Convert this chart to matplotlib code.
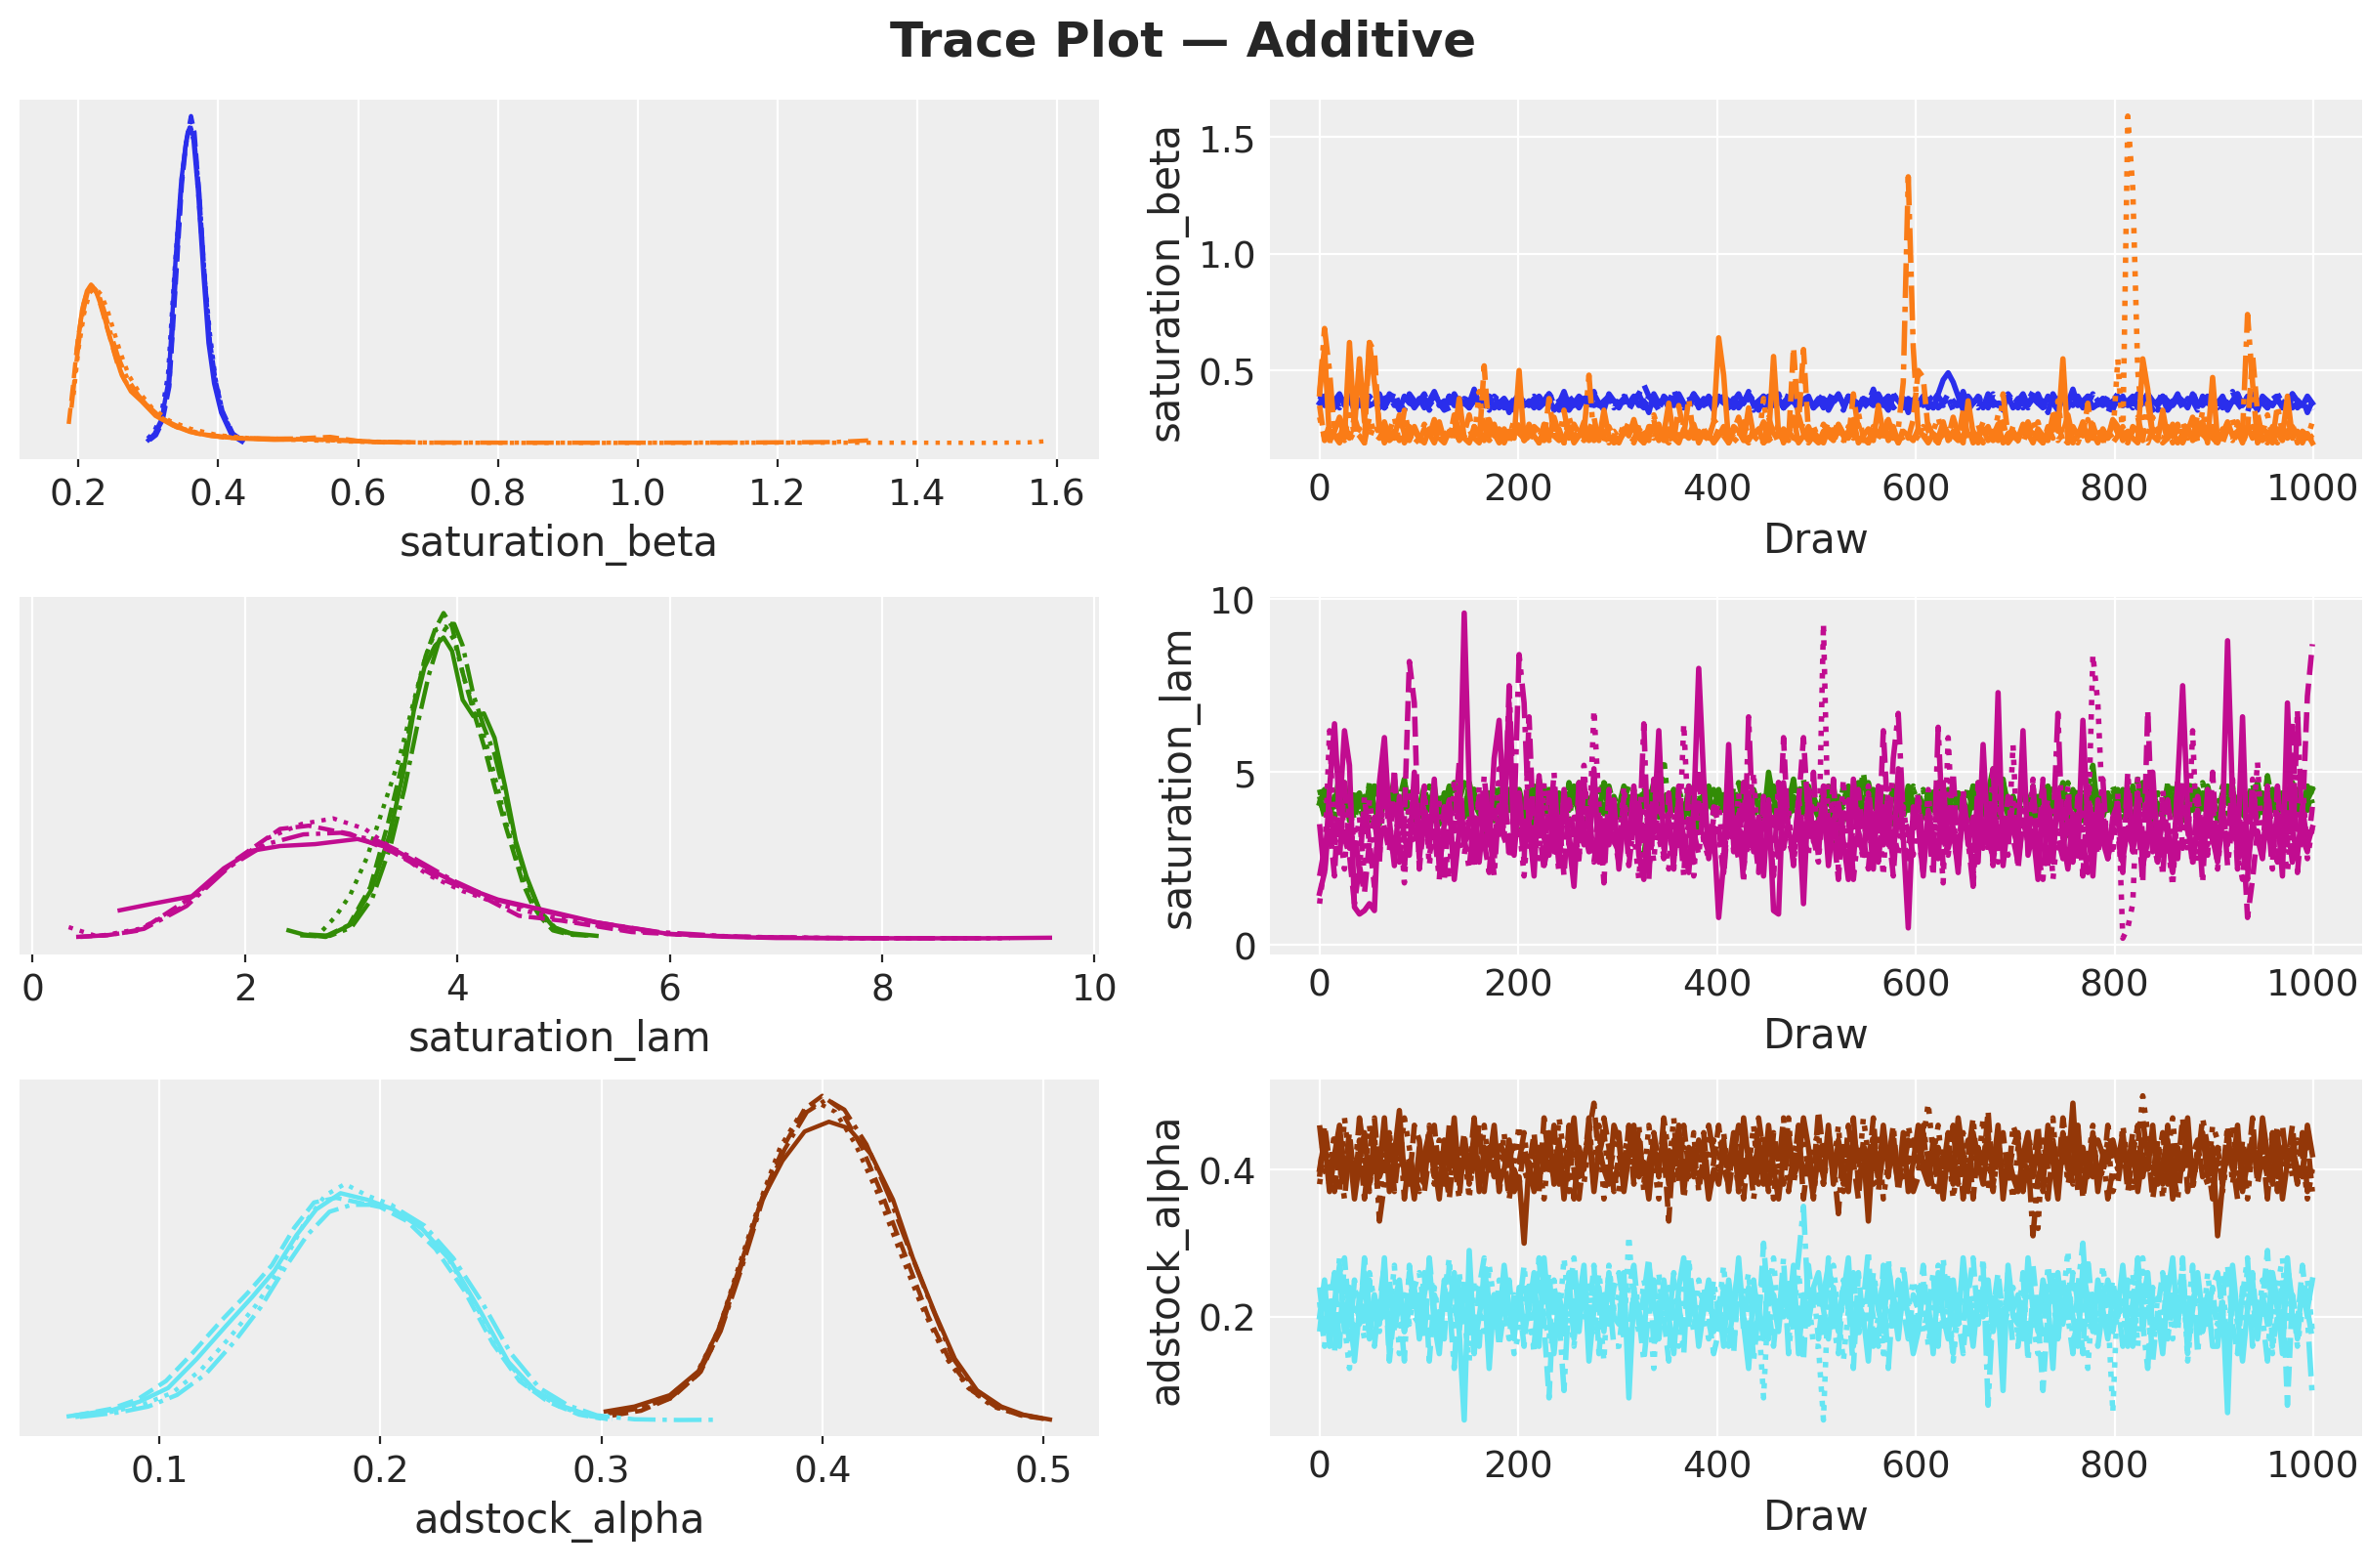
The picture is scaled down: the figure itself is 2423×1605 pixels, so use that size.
import numpy as np
import matplotlib.pyplot as plt

# arviz-darkgrid colours, one per channel, and one line style per chain
beta_colors = ["#2a2eec", "#fa7c17"]
lam_colors = ["#328c06", "#c10c90"]
alpha_colors = ["#933708", "#65e5f3"]
chain_styles = ["-", "--", ":", "-."]

var_names = ["saturation_beta", "saturation_lam", "adstock_alpha"]
beta_xticks = [0.2, 0.4, 0.6, 0.8, 1.0, 1.2, 1.4, 1.6]
lam_xticks = [0, 2, 4, 6, 8, 10]
alpha_xticks = [0.1, 0.2, 0.3, 0.4, 0.5]
draw_ticks = [0, 200, 400, 600, 800, 1000]
beta_yticks = [0.5, 1.0, 1.5]
lam_yticks = [0, 5, 10]
alpha_yticks = [0.2, 0.4]

# ---- posterior densities (4 chains per channel) ----
beta_blue_kde_x = [
    [0.300, 0.309, 0.319, 0.329, 0.339, 0.347, 0.354, 0.359, 0.364, 0.371, 0.379, 0.386, 0.394, 0.404, 0.419, 0.434],
    [0.302, 0.311, 0.320, 0.330, 0.340, 0.348, 0.355, 0.361, 0.366, 0.373, 0.381, 0.388, 0.396, 0.406, 0.421, 0.438],
    [0.299, 0.308, 0.318, 0.328, 0.338, 0.346, 0.353, 0.359, 0.365, 0.372, 0.380, 0.388, 0.396, 0.407, 0.422, 0.445],
    [0.301, 0.310, 0.320, 0.330, 0.340, 0.348, 0.355, 0.360, 0.366, 0.373, 0.380, 0.387, 0.395, 0.405, 0.420, 0.436],
]
beta_blue_kde_y = [
    [0.2, 0.6, 1.5, 3.9, 11.4, 16.2, 18.6, 19.5, 19.0, 15.6, 10.3, 6.2, 3.7, 1.9, 0.5, 0.1],
    [0.2, 0.5, 1.3, 3.5, 10.4, 16.0, 18.9, 20.2, 19.2, 15.2, 10.0, 6.3, 3.9, 2.0, 0.6, 0.1],
    [0.3, 0.7, 1.7, 4.2, 11.0, 15.5, 18.2, 19.7, 18.9, 15.0, 10.5, 6.8, 4.0, 1.8, 0.5, 0.1],
    [0.2, 0.6, 1.4, 3.8, 10.8, 16.5, 19.0, 19.3, 18.6, 15.4, 10.6, 6.5, 3.8, 1.9, 0.6, 0.1],
]
beta_orange_kde_x = [
    [0.197, 0.205, 0.212, 0.218, 0.225, 0.233, 0.242, 0.252, 0.262, 0.275, 0.290, 0.310, 0.335, 0.360, 0.390, 0.430,
     0.480, 0.530, 0.580, 0.620, 0.660],
    [0.186, 0.192, 0.199, 0.207, 0.214, 0.220, 0.227, 0.235, 0.245, 0.255, 0.266, 0.280, 0.295, 0.315, 0.340, 0.370,
     0.410, 0.460, 0.510, 0.560, 0.600, 0.640],
    [0.193, 0.200, 0.208, 0.216, 0.224, 0.232, 0.241, 0.250, 0.260, 0.272, 0.286, 0.305, 0.330, 0.360, 0.400, 0.450,
     0.520, 0.600, 0.700, 0.850, 1.000, 1.200, 1.400, 1.500, 1.560, 1.590],
    [0.190, 0.197, 0.205, 0.213, 0.220, 0.228, 0.236, 0.246, 0.257, 0.270, 0.285, 0.303, 0.325, 0.350, 0.380, 0.420,
     0.470, 0.530, 0.600, 0.700, 0.850, 1.000, 1.150, 1.280, 1.330],
]
beta_orange_kde_y = [
    [5.6, 8.2, 9.4, 9.8, 9.4, 8.4, 7.0, 5.5, 4.2, 3.2, 2.6, 1.7, 1.1, 0.7, 0.45, 0.3, 0.22, 0.25, 0.2, 0.1, 0.05],
    [1.2, 3.5, 6.4, 8.6, 9.6, 9.7, 9.2, 8.0, 6.5, 5.0, 3.9, 3.1, 2.5, 1.7, 1.0, 0.6, 0.35, 0.28, 0.3, 0.4, 0.15, 0.05],
    [3.0, 5.8, 8.0, 9.3, 9.6, 9.2, 8.3, 7.0, 5.6, 4.2, 3.2, 2.2, 1.4, 0.9, 0.5, 0.3, 0.2, 0.1, 0.04, 0.03, 0.03,
     0.04, 0.04, 0.03, 0.06, 0.15],
    [2.2, 5.0, 7.8, 9.3, 9.7, 9.3, 8.3, 6.8, 5.3, 4.0, 3.0, 2.1, 1.4, 0.9, 0.55, 0.35, 0.3, 0.25, 0.12, 0.05, 0.04,
     0.04, 0.05, 0.08, 0.18],
]
lam_green_kde_x = [
    [2.41, 2.55, 2.76, 2.99, 3.19, 3.36, 3.49, 3.59, 3.69, 3.79, 3.87, 3.95, 4.05, 4.15, 4.25, 4.35, 4.45, 4.55, 4.65,
     4.78, 4.91, 5.05, 5.31],
    [2.52, 2.75, 2.98, 3.18, 3.35, 3.49, 3.60, 3.70, 3.79, 3.87, 3.95, 4.05, 4.15, 4.25, 4.35, 4.45, 4.55, 4.62, 4.70,
     4.78, 4.90, 5.05, 5.25],
    [2.73, 2.85, 2.99, 3.15, 3.30, 3.45, 3.58, 3.70, 3.80, 3.89, 3.97, 4.07, 4.17, 4.27, 4.37, 4.47, 4.57, 4.67, 4.80,
     4.95, 5.10],
    [2.60, 2.80, 3.00, 3.20, 3.37, 3.50, 3.62, 3.73, 3.83, 3.91, 3.97, 4.05, 4.15, 4.25, 4.35, 4.45, 4.55, 4.65, 4.78,
     4.92, 5.10, 5.28],
]
lam_green_kde_y = [
    [0.03, 0.015, 0.006, 0.05, 0.18, 0.38, 0.61, 0.84, 1.0, 1.08, 1.11, 1.06, 0.88, 0.82, 0.83, 0.74, 0.56, 0.36,
     0.23, 0.10, 0.04, 0.02, 0.01],
    [0.012, 0.007, 0.05, 0.19, 0.43, 0.66, 0.88, 1.04, 1.14, 1.20, 1.15, 0.98, 0.84, 0.71, 0.56, 0.42, 0.29, 0.20,
     0.13, 0.08, 0.03, 0.015, 0.01],
    [0.03, 0.08, 0.16, 0.30, 0.48, 0.66, 0.86, 1.04, 1.14, 1.15, 1.10, 0.95, 0.84, 0.72, 0.57, 0.41, 0.27, 0.17,
     0.08, 0.03, 0.012],
    [0.015, 0.01, 0.04, 0.15, 0.34, 0.55, 0.78, 0.97, 1.10, 1.16, 1.16, 1.08, 0.90, 0.78, 0.68, 0.52, 0.35, 0.22,
     0.10, 0.04, 0.015, 0.01],
]
lam_magenta_kde_x = [
    [0.82, 1.10, 1.50, 1.80, 2.07, 2.33, 2.66, 3.06, 3.39, 3.72, 4.05, 4.38, 4.85, 5.31, 5.97, 6.50, 7.00, 8.00, 9.00,
     9.58],
    [0.41, 0.70, 1.01, 1.54, 1.93, 2.33, 2.60, 2.99, 3.39, 3.80, 4.19, 4.58, 4.98, 5.64, 6.20, 7.00, 8.00, 8.80],
    [0.34, 0.61, 1.01, 1.40, 1.80, 2.20, 2.53, 2.83, 3.13, 3.39, 3.72, 4.05, 4.45, 4.90, 5.40, 6.00, 6.80, 7.80, 8.60,
     9.20],
    [0.45, 0.75, 1.05, 1.45, 1.85, 2.20, 2.55, 2.90, 3.25, 3.60, 3.95, 4.35, 4.80, 5.30, 5.90, 6.60, 7.50, 8.40, 9.00],
]
lam_magenta_kde_y = [
    [0.104, 0.126, 0.156, 0.259, 0.324, 0.341, 0.348, 0.367, 0.331, 0.259, 0.192, 0.144, 0.102, 0.060, 0.018, 0.007,
     0.002, 0.001, 0.001, 0.003],
    [0.006, 0.012, 0.03, 0.163, 0.295, 0.404, 0.416, 0.386, 0.319, 0.228, 0.163, 0.084, 0.066, 0.024, 0.012, 0.004,
     0.001, 0.001],
    [0.042, 0.008, 0.036, 0.114, 0.247, 0.368, 0.422, 0.443, 0.404, 0.331, 0.235, 0.175, 0.12, 0.078, 0.042, 0.016,
     0.005, 0.001, 0.001, 0.001],
    [0.006, 0.014, 0.036, 0.12, 0.264, 0.348, 0.384, 0.39, 0.36, 0.294, 0.216, 0.144, 0.102, 0.06, 0.024, 0.007,
     0.002, 0.001, 0.001],
]
alpha_brown_kde_x = [
    [0.302, 0.315, 0.331, 0.344, 0.353, 0.363, 0.372, 0.382, 0.392, 0.403, 0.412, 0.422, 0.432, 0.441, 0.451, 0.460,
     0.470, 0.481, 0.491, 0.503],
    [0.305, 0.318, 0.332, 0.345, 0.354, 0.364, 0.373, 0.383, 0.392, 0.400, 0.408, 0.418, 0.428, 0.438, 0.448, 0.458,
     0.468, 0.479, 0.490, 0.500],
    [0.304, 0.317, 0.330, 0.343, 0.353, 0.362, 0.372, 0.381, 0.390, 0.398, 0.406, 0.415, 0.425, 0.435, 0.445, 0.456,
     0.466, 0.477, 0.489, 0.501],
    [0.303, 0.316, 0.331, 0.344, 0.354, 0.364, 0.373, 0.383, 0.393, 0.402, 0.410, 0.420, 0.430, 0.440, 0.450, 0.459,
     0.469, 0.480, 0.490, 0.500],
]
alpha_brown_kde_y = [
    [0.39, 0.60, 1.09, 2.13, 3.92, 6.72, 9.38, 11.2, 12.46, 12.88, 12.6, 11.48, 9.52, 7.0, 4.62, 2.66, 1.30, 0.60,
     0.25, 0.04],
    [0.21, 0.42, 0.98, 2.1, 3.92, 6.86, 9.66, 11.9, 13.44, 14.0, 13.44, 11.76, 9.52, 7.0, 4.48, 2.52, 1.26, 0.56,
     0.21, 0.07],
    [0.35, 0.55, 1.0, 2.0, 3.9, 6.6, 9.5, 11.8, 13.2, 13.7, 13.3, 11.9, 9.8, 7.3, 4.9, 2.7, 1.4, 0.6, 0.25, 0.06],
    [0.3, 0.5, 0.95, 2.0, 3.85, 6.7, 9.5, 11.7, 13.3, 13.85, 13.4, 11.9, 9.7, 7.2, 4.8, 2.7, 1.35, 0.6, 0.25, 0.08],
]
alpha_cyan_kde_x = [
    [0.059, 0.079, 0.091, 0.104, 0.117, 0.130, 0.142, 0.152, 0.162, 0.171, 0.182, 0.194, 0.206, 0.219, 0.232, 0.245,
     0.258, 0.270, 0.283, 0.296, 0.302],
    [0.061, 0.078, 0.090, 0.103, 0.115, 0.128, 0.140, 0.151, 0.161, 0.170, 0.180, 0.190, 0.200, 0.212, 0.225, 0.238,
     0.251, 0.263, 0.276, 0.290, 0.300],
    [0.062, 0.080, 0.093, 0.106, 0.119, 0.132, 0.144, 0.155, 0.165, 0.175, 0.184, 0.194, 0.205, 0.217, 0.230, 0.243,
     0.256, 0.268, 0.281, 0.294, 0.305],
    [0.064, 0.082, 0.095, 0.108, 0.121, 0.134, 0.146, 0.157, 0.167, 0.177, 0.187, 0.197, 0.208, 0.220, 0.233, 0.246,
     0.259, 0.272, 0.285, 0.298, 0.315, 0.335, 0.352],
]
alpha_cyan_kde_y = [
    [0.18, 0.46, 0.81, 1.4, 2.66, 4.06, 5.32, 6.44, 7.98, 9.1, 9.8, 9.52, 9.1, 8.26, 6.86, 4.76, 2.52, 1.3, 0.6, 0.18,
     0.07],
    [0.2, 0.5, 0.9, 1.7, 2.9, 4.3, 5.5, 6.7, 8.3, 9.4, 9.6, 9.4, 9.2, 8.6, 7.4, 5.6, 3.3, 1.7, 0.8, 0.25, 0.08],
    [0.15, 0.4, 0.7, 1.2, 2.2, 3.6, 5.0, 6.6, 8.4, 9.7, 10.2, 9.7, 9.3, 8.5, 7.1, 5.0, 2.7, 1.35, 0.6, 0.2, 0.06],
    [0.15, 0.35, 0.6, 1.1, 2.0, 3.4, 4.9, 6.6, 8.0, 9.0, 9.3, 9.3, 9.1, 8.4, 7.0, 5.1, 2.9, 1.4, 0.65, 0.22, 0.05,
     0.02, 0.03],
]

# ---- traces, one value read about every 5 draws ----
# beta and alpha in hundredths, lam in tenths
beta_blue_trace = [
    [36, 39, 34, 37, 40, 35, 38, 33, 37, 39, 35, 36, 40, 34, 38, 37, 33, 39, 36, 35,
     38, 34, 37, 41, 36, 33, 39, 35, 38, 36, 34, 40, 37, 35, 39, 34, 36, 38, 32, 37,
     40, 35, 37, 34, 39, 36, 38, 33, 36, 41, 35, 37, 34, 38, 39, 35, 36, 33, 40, 37,
     34, 38, 36, 39, 35, 37, 32, 40, 36, 38, 34, 37, 39, 35, 36, 40, 34, 38, 37, 33,
     39, 36, 35, 38, 34, 37, 40, 36, 33, 39, 37, 35, 38, 34, 36, 41, 35, 37, 39, 34,
     36, 38, 33, 37, 40, 35, 39, 36, 34, 38, 37, 35, 40, 36, 33, 39, 37, 34, 38, 36,
     35, 39, 37, 34, 40, 46, 49, 45, 39, 33, 39, 36, 38, 34, 40, 37, 35, 36, 39, 34,
     37, 40, 35, 38, 36, 34, 39, 37, 33, 38, 36, 42, 35, 37, 39, 34, 36, 38, 35, 37,
     38, 35, 37, 39, 34, 36, 40, 37, 35, 38, 33, 36, 39, 37, 34, 40, 36, 35, 38, 37,
     36, 39, 34, 37, 40, 35, 38, 36, 33, 39, 37, 35, 38, 34, 36, 40, 37, 35, 39, 36],
    [40, 35, 37, 34, 39, 36, 38, 33, 36, 41, 35, 37, 34, 38, 39, 35, 36, 33, 40, 37,
     34, 38, 36, 39, 35, 37, 32, 40, 36, 38, 34, 37, 39, 35, 36, 40, 34, 38, 37, 33,
     39, 36, 35, 38, 34, 37, 40, 36, 33, 39, 37, 35, 38, 34, 36, 41, 35, 37, 39, 34,
     36, 38, 33, 37, 40, 44, 39, 36, 34, 38, 37, 35, 40, 36, 33, 39, 37, 34, 38, 36,
     35, 39, 37, 34, 38, 36, 41, 35, 37, 33, 39, 36, 38, 34, 40, 37, 35, 36, 39, 34,
     37, 40, 35, 38, 36, 34, 39, 37, 33, 38, 36, 42, 35, 37, 39, 34, 36, 38, 35, 37,
     38, 35, 37, 39, 34, 36, 40, 37, 35, 38, 33, 36, 39, 37, 34, 40, 36, 35, 38, 37,
     36, 39, 34, 37, 40, 35, 38, 36, 33, 39, 37, 35, 38, 34, 36, 40, 37, 35, 39, 36,
     36, 39, 34, 37, 40, 35, 38, 33, 37, 39, 35, 36, 40, 34, 38, 37, 33, 39, 36, 35,
     38, 34, 37, 41, 36, 33, 39, 35, 38, 36, 34, 40, 37, 35, 39, 34, 36, 38, 32, 37],
    [39, 36, 35, 38, 34, 37, 40, 36, 33, 39, 37, 35, 38, 34, 36, 41, 35, 37, 39, 34,
     36, 38, 33, 37, 40, 35, 39, 36, 34, 38, 37, 35, 40, 36, 33, 39, 37, 34, 38, 36,
     35, 39, 37, 34, 38, 36, 41, 35, 37, 33, 39, 36, 38, 34, 40, 37, 35, 36, 39, 34,
     37, 40, 35, 38, 36, 34, 39, 37, 33, 38, 36, 42, 35, 37, 39, 34, 36, 38, 35, 37,
     38, 35, 37, 39, 34, 36, 40, 37, 35, 38, 33, 36, 39, 37, 34, 40, 36, 35, 38, 37,
     36, 39, 34, 37, 40, 35, 38, 36, 33, 39, 37, 35, 38, 34, 36, 40, 37, 35, 39, 36,
     36, 39, 34, 37, 40, 35, 38, 33, 37, 39, 35, 36, 40, 34, 38, 37, 33, 39, 36, 35,
     38, 34, 37, 41, 36, 33, 39, 35, 38, 36, 34, 40, 37, 35, 39, 34, 36, 38, 32, 37,
     40, 35, 37, 34, 39, 36, 38, 33, 36, 41, 35, 37, 34, 38, 39, 35, 36, 33, 40, 37,
     34, 38, 36, 39, 35, 37, 32, 40, 36, 38, 34, 37, 39, 35, 36, 40, 34, 38, 37, 33],
    [35, 39, 37, 34, 38, 36, 41, 35, 37, 33, 39, 36, 38, 34, 40, 37, 35, 36, 39, 34,
     37, 40, 35, 38, 36, 34, 39, 37, 33, 38, 36, 42, 35, 37, 39, 34, 36, 38, 35, 37,
     38, 35, 37, 39, 34, 36, 40, 37, 35, 38, 33, 36, 39, 37, 34, 40, 36, 35, 38, 37,
     36, 39, 34, 37, 40, 35, 38, 36, 33, 39, 37, 35, 38, 34, 36, 40, 37, 35, 39, 36,
     36, 39, 34, 37, 40, 35, 38, 33, 37, 39, 35, 36, 40, 34, 38, 37, 33, 39, 36, 35,
     38, 34, 37, 41, 36, 33, 39, 35, 38, 36, 34, 40, 37, 35, 39, 34, 36, 38, 32, 37,
     40, 35, 37, 34, 39, 36, 38, 33, 36, 41, 35, 37, 34, 38, 39, 35, 36, 33, 40, 37,
     34, 38, 36, 39, 35, 37, 32, 40, 36, 38, 34, 37, 39, 35, 36, 40, 34, 38, 37, 33,
     39, 36, 35, 38, 34, 37, 40, 36, 33, 39, 37, 35, 38, 34, 36, 41, 35, 37, 39, 34,
     36, 38, 33, 37, 40, 35, 39, 36, 34, 38, 37, 35, 40, 36, 33, 39, 37, 34, 38, 36],
]
beta_orange_trace = [
    [40, 60, 20, 24, 30, 21, 62, 25, 55, 28, 62, 45, 27, 19, 24, 21, 31, 23, 20, 26,
     21, 19, 25, 23, 28, 20, 24, 22, 38, 21, 19, 26, 23, 20, 29, 22, 25, 19, 24, 21,
     50, 20, 27, 22, 19, 25, 21, 30, 23, 20, 26, 19, 22, 28, 21, 24, 20, 33, 22, 19,
     20, 25, 22, 29, 21, 19, 24, 26, 20, 23, 36, 21, 19, 25, 22, 27, 20, 24, 21, 28,
     64, 48, 19, 26, 24, 20, 34, 22, 25, 19, 21, 56, 23, 20, 24, 30, 19, 22, 26, 21,
     19, 24, 22, 20, 27, 23, 21, 29, 19, 22, 25, 20, 35, 23, 21, 26, 19, 24, 22, 20,
     25, 22, 19, 23, 21, 28, 20, 24, 22, 19, 37, 23, 21, 25, 20, 22, 27, 19, 23, 24,
     21, 27, 23, 19, 25, 22, 20, 31, 24, 55, 19, 26, 22, 28, 20, 23, 19, 25, 21, 29,
     26, 20, 24, 21, 19, 55, 42, 22, 20, 33, 21, 24, 19, 23, 26, 20, 22, 28, 19, 47,
     20, 23, 28, 22, 24, 19, 26, 21, 27, 20, 23, 19, 25, 22, 39, 21, 24, 20, 23, 19],
    [35, 20, 27, 22, 19, 25, 21, 30, 23, 20, 62, 58, 22, 28, 21, 24, 20, 33, 22, 19,
     20, 25, 22, 29, 21, 19, 24, 26, 20, 23, 31, 21, 19, 52, 22, 27, 20, 24, 21, 28,
     23, 21, 19, 26, 24, 20, 38, 22, 25, 19, 21, 27, 23, 20, 24, 30, 19, 22, 26, 21,
     19, 24, 22, 20, 27, 23, 21, 29, 19, 22, 25, 20, 35, 23, 21, 26, 19, 24, 22, 20,
     25, 22, 19, 23, 21, 28, 20, 24, 22, 19, 30, 23, 21, 25, 20, 60, 27, 59, 23, 24,
     21, 27, 23, 19, 25, 22, 20, 40, 24, 21, 19, 26, 22, 28, 20, 23, 19, 25, 21, 29,
     50, 47, 24, 21, 19, 27, 23, 22, 20, 33, 21, 24, 19, 23, 26, 20, 22, 28, 19, 22,
     20, 23, 28, 22, 24, 19, 26, 21, 27, 20, 23, 19, 25, 22, 36, 21, 24, 20, 23, 19,
     22, 26, 20, 24, 30, 21, 19, 25, 23, 28, 20, 22, 27, 19, 24, 21, 31, 23, 20, 26,
     21, 19, 25, 23, 28, 20, 24, 57, 32, 21, 19, 26, 23, 20, 29, 22, 25, 19, 24, 21],
    [30, 21, 19, 26, 24, 20, 34, 22, 25, 19, 21, 27, 23, 20, 24, 30, 19, 22, 26, 21,
     19, 24, 22, 20, 27, 23, 21, 29, 19, 22, 25, 20, 41, 23, 21, 26, 19, 24, 22, 20,
     25, 22, 19, 23, 21, 28, 20, 24, 22, 19, 30, 23, 21, 25, 20, 22, 27, 19, 23, 24,
     21, 27, 23, 19, 25, 22, 20, 31, 24, 21, 19, 26, 22, 28, 20, 23, 19, 25, 21, 29,
     26, 20, 24, 21, 19, 27, 23, 22, 20, 38, 21, 24, 19, 23, 26, 20, 22, 28, 19, 22,
     20, 23, 28, 22, 24, 19, 26, 21, 27, 20, 23, 19, 25, 22, 30, 21, 24, 20, 23, 19,
     22, 26, 20, 24, 30, 21, 19, 25, 23, 28, 20, 22, 27, 19, 24, 21, 31, 23, 20, 26,
     21, 19, 25, 23, 28, 20, 24, 22, 37, 21, 19, 26, 23, 20, 29, 22, 25, 19, 24, 21,
     55, 20, 159, 128, 50, 25, 21, 30, 23, 20, 26, 19, 22, 28, 21, 24, 20, 33, 22, 19,
     20, 25, 22, 29, 21, 19, 24, 26, 20, 23, 31, 21, 19, 25, 22, 27, 20, 24, 21, 28],
    [40, 68, 50, 23, 21, 28, 20, 24, 22, 19, 30, 23, 21, 25, 20, 22, 27, 19, 23, 24,
     21, 27, 23, 19, 25, 22, 20, 31, 24, 21, 19, 26, 22, 28, 20, 23, 19, 25, 21, 29,
     26, 20, 24, 21, 19, 27, 23, 22, 20, 33, 21, 24, 19, 23, 48, 20, 22, 28, 19, 22,
     20, 23, 28, 22, 24, 19, 26, 21, 27, 20, 23, 19, 25, 22, 38, 21, 24, 20, 23, 19,
     22, 26, 20, 24, 30, 21, 19, 25, 23, 28, 20, 22, 27, 19, 24, 21, 31, 23, 20, 26,
     21, 19, 25, 23, 28, 20, 24, 22, 32, 21, 19, 26, 23, 20, 29, 22, 25, 45, 133, 60,
     24, 20, 27, 22, 19, 25, 21, 30, 23, 20, 26, 19, 22, 28, 21, 24, 20, 40, 22, 19,
     20, 25, 22, 29, 21, 19, 24, 26, 20, 23, 31, 21, 19, 25, 22, 27, 20, 24, 21, 28,
     23, 21, 19, 26, 24, 20, 36, 22, 25, 19, 21, 27, 23, 20, 24, 30, 19, 22, 26, 21,
     19, 24, 22, 20, 27, 23, 74, 45, 19, 22, 25, 20, 35, 23, 21, 26, 19, 24, 22, 20],
]
lam_green_trace = [
    [41, 45, 37, 43, 39, 47, 36, 42, 44, 38, 46, 40, 35, 43, 41, 48, 37, 44, 39, 42,
     38, 44, 40, 46, 36, 42, 45, 39, 43, 37, 47, 41, 38, 44, 40, 36, 45, 42, 39, 46,
     43, 37, 45, 32, 48, 38, 42, 36, 44, 41, 39, 46, 37, 43, 40, 45, 38, 47, 41, 36,
     40, 46, 38, 42, 35, 44, 41, 47, 39, 43, 37, 45, 40, 36, 46, 42, 38, 44, 41, 39,
     45, 39, 43, 37, 41, 46, 38, 44, 40, 36, 50, 42, 39, 45, 37, 43, 41, 38, 46, 40,
     37, 42, 46, 40, 28, 38, 36, 43, 47, 39, 41, 45, 38, 42, 40, 35, 44, 39, 46, 41,
     42, 38, 44, 39, 47, 41, 37, 45, 40, 43, 36, 46, 39, 41, 44, 51, 42, 48, 37, 43,
     39, 45, 41, 36, 43, 40, 46, 38, 42, 47, 39, 44, 37, 43, 41, 45, 36, 40, 44, 38,
     44, 40, 37, 46, 39, 42, 45, 31, 41, 38, 44, 40, 47, 36, 42, 39, 45, 41, 38, 43,
     36, 43, 41, 45, 38, 46, 40, 42, 37, 44, 41, 39, 45, 40, 38, 47, 43, 37, 42, 45],
    [43, 37, 45, 40, 48, 38, 42, 36, 44, 41, 39, 46, 37, 43, 40, 45, 38, 47, 41, 36,
     40, 46, 38, 42, 35, 44, 41, 47, 39, 43, 37, 45, 40, 32, 46, 42, 38, 44, 41, 39,
     45, 39, 43, 37, 41, 46, 38, 44, 40, 36, 47, 42, 39, 45, 37, 43, 41, 38, 46, 40,
     37, 42, 46, 40, 44, 26, 36, 43, 47, 39, 41, 45, 38, 42, 40, 35, 44, 39, 46, 41,
     42, 38, 44, 39, 47, 41, 37, 45, 40, 43, 36, 46, 39, 41, 44, 38, 42, 48, 37, 43,
     39, 45, 41, 36, 43, 40, 46, 38, 42, 50, 39, 44, 37, 43, 41, 45, 36, 40, 44, 38,
     44, 40, 37, 46, 39, 42, 45, 37, 41, 38, 44, 40, 47, 36, 42, 39, 45, 41, 38, 43,
     36, 43, 41, 45, 38, 46, 40, 42, 37, 44, 30, 39, 45, 40, 38, 47, 43, 37, 42, 45,
     41, 45, 37, 43, 39, 47, 36, 42, 44, 38, 46, 40, 35, 43, 41, 48, 37, 44, 39, 42,
     38, 44, 40, 46, 36, 42, 45, 39, 43, 37, 49, 41, 38, 44, 40, 36, 45, 42, 39, 46],
    [45, 39, 43, 37, 41, 46, 38, 44, 40, 36, 47, 42, 39, 45, 37, 43, 41, 38, 46, 40,
     37, 42, 46, 40, 44, 38, 36, 43, 47, 39, 41, 45, 38, 42, 40, 35, 44, 39, 46, 41,
     31, 38, 44, 39, 47, 41, 37, 45, 40, 43, 36, 46, 39, 41, 44, 38, 42, 48, 37, 43,
     39, 45, 41, 36, 43, 40, 46, 38, 42, 54, 39, 44, 37, 43, 41, 45, 36, 40, 44, 38,
     44, 40, 37, 46, 39, 42, 45, 37, 41, 38, 44, 40, 47, 36, 42, 39, 45, 41, 38, 43,
     36, 43, 41, 29, 38, 46, 40, 42, 37, 44, 41, 39, 45, 40, 38, 47, 43, 37, 42, 45,
     41, 45, 37, 43, 39, 47, 36, 42, 44, 38, 46, 40, 35, 43, 41, 48, 37, 44, 39, 42,
     38, 44, 40, 46, 36, 42, 45, 39, 43, 37, 47, 33, 38, 44, 40, 36, 45, 42, 39, 46,
     43, 37, 45, 40, 48, 38, 42, 36, 44, 41, 39, 46, 37, 43, 40, 45, 38, 47, 41, 36,
     40, 46, 38, 42, 30, 44, 41, 47, 39, 43, 37, 45, 40, 36, 46, 42, 38, 44, 41, 39],
    [42, 38, 44, 39, 50, 41, 37, 45, 40, 43, 36, 46, 39, 41, 44, 38, 42, 48, 37, 43,
     39, 45, 41, 36, 43, 40, 46, 38, 42, 47, 39, 44, 37, 43, 41, 45, 36, 40, 44, 38,
     44, 40, 37, 46, 39, 42, 45, 37, 41, 38, 44, 40, 47, 36, 42, 39, 45, 41, 38, 43,
     36, 43, 41, 45, 38, 46, 40, 42, 37, 44, 41, 39, 45, 40, 38, 47, 32, 37, 42, 45,
     41, 45, 37, 43, 39, 47, 36, 42, 44, 38, 46, 40, 35, 43, 41, 48, 37, 44, 39, 42,
     38, 44, 40, 46, 36, 42, 45, 39, 43, 37, 47, 41, 38, 44, 40, 36, 45, 42, 39, 46,
     43, 37, 45, 40, 48, 38, 42, 36, 44, 41, 39, 46, 31, 43, 40, 45, 38, 47, 41, 36,
     40, 46, 38, 42, 35, 44, 41, 47, 39, 43, 37, 45, 40, 36, 46, 52, 38, 44, 41, 39,
     45, 39, 43, 37, 41, 46, 38, 44, 40, 36, 47, 42, 39, 45, 37, 43, 41, 38, 46, 40,
     37, 42, 46, 40, 44, 38, 36, 43, 47, 39, 41, 45, 38, 42, 40, 35, 44, 39, 46, 41],
]
lam_magenta_trace = [
    [15, 21, 45, 64, 38, 62, 52, 11, 9, 10, 12, 10, 47, 60, 36, 23, 43, 31, 26, 50,
     25, 39, 29, 48, 22, 35, 42, 19, 33, 96, 46, 31, 24, 40, 29, 54, 65, 37, 70, 26,
     44, 28, 35, 20, 49, 31, 26, 38, 23, 45, 30, 17, 41, 34, 27, 51, 24, 36, 29, 42,
     22, 37, 31, 46, 26, 19, 40, 33, 62, 28, 36, 24, 43, 30, 21, 39, 80, 48, 25, 34,
     8, 24, 58, 29, 34, 22, 44, 27, 37, 20, 42, 10, 9, 47, 33, 28, 39, 12, 45, 30,
     27, 43, 23, 36, 41, 30, 19, 48, 32, 26, 38, 22, 46, 29, 35, 24, 51, 31, 5, 40,
     35, 20, 39, 31, 25, 47, 28, 34, 21, 43, 29, 37, 24, 58, 30, 26, 73, 23, 36, 33,
     29, 62, 26, 33, 19, 40, 36, 24, 45, 31, 22, 38, 27, 65, 34, 20, 42, 30, 25, 37,
     41, 25, 34, 28, 44, 23, 30, 50, 26, 37, 32, 21, 47, 75, 39, 24, 35, 28, 43, 31,
     24, 36, 88, 42, 27, 66, 22, 35, 31, 25, 44, 28, 38, 20, 70, 33, 26, 40, 29, 34],
    [20, 28, 35, 20, 49, 31, 26, 12, 23, 15, 30, 17, 41, 34, 27, 51, 24, 36, 82, 70,
     22, 37, 31, 46, 26, 19, 40, 33, 53, 28, 36, 24, 43, 30, 21, 39, 32, 48, 25, 34,
     38, 24, 66, 29, 34, 22, 44, 27, 37, 20, 42, 31, 25, 47, 33, 28, 39, 18, 45, 30,
     27, 43, 23, 36, 41, 30, 19, 48, 32, 26, 38, 22, 46, 29, 35, 24, 51, 31, 27, 40,
     35, 20, 39, 31, 25, 47, 28, 34, 21, 43, 29, 37, 24, 60, 30, 26, 41, 60, 36, 33,
     29, 46, 26, 33, 19, 40, 36, 24, 45, 31, 22, 38, 27, 62, 34, 20, 42, 30, 25, 37,
     41, 25, 34, 28, 44, 23, 30, 50, 26, 37, 32, 21, 47, 29, 39, 24, 35, 28, 43, 31,
     24, 36, 30, 42, 27, 48, 22, 35, 31, 25, 44, 28, 38, 20, 46, 33, 26, 40, 29, 34,
     32, 21, 45, 27, 38, 18, 68, 30, 24, 41, 35, 20, 47, 28, 36, 23, 43, 31, 26, 50,
     25, 39, 29, 48, 22, 35, 8, 19, 33, 27, 46, 31, 24, 40, 29, 65, 21, 37, 72, 87],
    [12, 24, 62, 29, 34, 22, 44, 27, 37, 20, 42, 31, 25, 47, 33, 28, 39, 18, 45, 30,
     27, 43, 23, 36, 41, 30, 19, 48, 32, 26, 38, 22, 46, 29, 35, 24, 51, 31, 27, 40,
     35, 20, 39, 31, 25, 47, 28, 34, 21, 43, 29, 37, 24, 52, 30, 68, 41, 23, 36, 33,
     29, 46, 26, 33, 19, 40, 36, 24, 45, 31, 22, 38, 27, 64, 34, 20, 42, 30, 25, 37,
     41, 25, 34, 28, 44, 23, 30, 50, 26, 37, 32, 21, 47, 29, 39, 24, 35, 28, 43, 31,
     24, 93, 30, 42, 27, 48, 22, 35, 31, 25, 44, 28, 38, 20, 46, 33, 26, 40, 29, 34,
     32, 21, 45, 27, 38, 18, 60, 30, 24, 41, 35, 20, 47, 28, 36, 23, 43, 31, 26, 58,
     25, 39, 29, 48, 22, 35, 42, 19, 33, 27, 46, 31, 24, 40, 29, 84, 70, 37, 33, 26,
     44, 2, 5, 12, 49, 31, 26, 38, 23, 45, 30, 17, 41, 34, 27, 62, 24, 36, 29, 42,
     22, 37, 31, 46, 26, 19, 40, 33, 53, 28, 36, 24, 43, 30, 21, 39, 32, 48, 25, 34],
    [35, 20, 39, 31, 25, 47, 28, 34, 21, 43, 29, 37, 24, 52, 30, 26, 41, 23, 36, 33,
     29, 46, 26, 33, 19, 40, 36, 24, 45, 31, 22, 38, 27, 49, 34, 20, 42, 30, 75, 37,
     84, 70, 34, 28, 44, 23, 30, 50, 26, 37, 32, 21, 47, 29, 39, 24, 35, 28, 43, 31,
     24, 36, 30, 42, 27, 64, 22, 35, 31, 25, 44, 28, 38, 20, 46, 33, 26, 40, 29, 34,
     32, 21, 45, 27, 38, 18, 66, 30, 24, 41, 35, 20, 47, 28, 36, 23, 43, 31, 26, 50,
     25, 39, 29, 48, 22, 35, 42, 19, 33, 27, 46, 31, 24, 40, 29, 54, 67, 37, 33, 26,
     44, 28, 35, 20, 63, 31, 26, 38, 23, 45, 30, 17, 41, 34, 27, 51, 24, 36, 29, 42,
     22, 37, 31, 46, 26, 19, 40, 33, 67, 28, 36, 24, 43, 30, 21, 39, 32, 48, 25, 34,
     38, 24, 50, 29, 34, 22, 44, 27, 37, 20, 42, 31, 25, 47, 33, 28, 39, 18, 45, 30,
     27, 43, 23, 36, 41, 30, 19, 48, 32, 26, 38, 22, 46, 29, 35, 24, 68, 31, 27, 40],
]
alpha_brown_trace = [
    [40, 44, 37, 42, 46, 39, 43, 36, 41, 45, 38, 43, 40, 47, 37, 42, 48, 39, 41, 36,
     43, 38, 45, 41, 36, 44, 40, 47, 38, 42, 39, 45, 37, 43, 41, 46, 38, 40, 44, 37,
     39, 30, 41, 37, 43, 40, 45, 38, 44, 36, 42, 47, 39, 41, 45, 37, 43, 40, 38, 46,
     44, 37, 42, 46, 39, 41, 36, 43, 40, 45, 38, 41, 46, 37, 43, 39, 44, 42, 36, 40,
     38, 43, 40, 45, 37, 47, 41, 39, 44, 38, 46, 40, 36, 42, 45, 39, 41, 47, 43, 37,
     42, 39, 46, 38, 44, 40, 37, 45, 41, 43, 33, 44, 39, 46, 40, 42, 38, 45, 37, 41,
     46, 40, 38, 44, 41, 36, 43, 39, 47, 42, 37, 45, 41, 38, 44, 40, 46, 36, 42, 39,
     37, 42, 45, 39, 43, 38, 46, 41, 36, 44, 40, 49, 38, 43, 39, 45, 37, 42, 41, 44,
     41, 45, 39, 43, 37, 42, 40, 46, 38, 41, 44, 36, 43, 40, 47, 38, 42, 45, 39, 43,
     31, 38, 43, 40, 46, 37, 41, 44, 39, 47, 42, 38, 45, 36, 41, 43, 40, 39, 46, 42],
    [39, 46, 41, 37, 43, 40, 45, 38, 44, 36, 42, 47, 39, 41, 45, 37, 43, 40, 38, 46,
     44, 37, 42, 46, 39, 41, 36, 43, 40, 45, 38, 41, 46, 37, 43, 39, 44, 42, 36, 40,
     38, 43, 40, 45, 37, 47, 41, 39, 44, 38, 46, 40, 36, 42, 45, 49, 41, 47, 43, 37,
     42, 39, 46, 38, 44, 40, 37, 45, 41, 43, 33, 44, 39, 46, 40, 42, 38, 45, 37, 41,
     46, 40, 38, 44, 41, 36, 43, 39, 47, 42, 37, 45, 41, 38, 44, 40, 46, 36, 42, 39,
     48, 42, 45, 39, 43, 38, 46, 41, 36, 44, 40, 47, 38, 43, 39, 45, 37, 42, 41, 44,
     41, 45, 39, 43, 37, 42, 40, 46, 38, 41, 44, 36, 43, 40, 48, 38, 42, 45, 39, 43,
     45, 38, 43, 40, 46, 37, 41, 44, 39, 47, 42, 38, 45, 36, 41, 43, 40, 39, 46, 42,
     40, 44, 37, 42, 46, 39, 43, 36, 41, 45, 38, 43, 40, 47, 37, 42, 44, 39, 41, 36,
     43, 38, 45, 41, 36, 44, 40, 47, 38, 42, 39, 45, 37, 43, 41, 46, 38, 40, 44, 37],
    [38, 43, 40, 45, 37, 47, 41, 39, 44, 38, 46, 40, 36, 42, 45, 39, 41, 47, 43, 37,
     42, 39, 46, 38, 44, 40, 37, 45, 41, 43, 36, 44, 39, 46, 40, 42, 38, 45, 37, 41,
     46, 40, 38, 44, 41, 36, 43, 39, 47, 42, 37, 45, 41, 38, 44, 40, 46, 36, 42, 39,
     37, 42, 45, 39, 43, 38, 46, 41, 36, 44, 40, 47, 38, 43, 39, 45, 37, 42, 41, 44,
     41, 45, 39, 43, 37, 42, 40, 46, 38, 41, 44, 36, 43, 40, 47, 38, 42, 45, 39, 43,
     45, 38, 43, 40, 46, 37, 41, 44, 39, 47, 42, 38, 45, 36, 41, 43, 40, 39, 46, 42,
     40, 44, 49, 42, 46, 39, 43, 36, 41, 45, 38, 43, 40, 47, 37, 42, 44, 39, 41, 36,
     43, 38, 45, 41, 32, 44, 40, 47, 38, 42, 39, 45, 37, 43, 41, 46, 38, 40, 44, 37,
     39, 46, 41, 37, 43, 50, 45, 38, 44, 36, 42, 47, 39, 41, 45, 37, 43, 40, 38, 46,
     44, 37, 42, 46, 39, 41, 36, 43, 40, 45, 38, 41, 46, 37, 43, 39, 44, 42, 36, 40],
    [46, 40, 38, 44, 41, 36, 43, 39, 47, 42, 37, 45, 33, 38, 44, 40, 46, 36, 42, 39,
     37, 42, 45, 39, 43, 38, 46, 41, 36, 44, 40, 47, 38, 43, 39, 45, 37, 42, 41, 44,
     41, 45, 39, 43, 37, 42, 40, 46, 38, 41, 44, 36, 43, 40, 47, 38, 42, 45, 39, 43,
     45, 38, 43, 40, 46, 37, 41, 44, 39, 47, 42, 38, 45, 36, 41, 43, 40, 39, 46, 42,
     40, 44, 37, 42, 46, 39, 43, 36, 41, 45, 38, 43, 40, 47, 37, 42, 44, 39, 41, 36,
     43, 38, 45, 41, 34, 44, 40, 47, 38, 42, 39, 45, 37, 43, 41, 46, 38, 40, 44, 37,
     39, 46, 41, 37, 43, 40, 45, 38, 44, 36, 42, 47, 39, 41, 45, 37, 43, 40, 38, 46,
     44, 37, 42, 31, 39, 41, 36, 43, 40, 45, 38, 41, 46, 37, 43, 39, 44, 42, 36, 40,
     38, 43, 40, 45, 37, 47, 41, 39, 44, 38, 46, 40, 36, 42, 45, 39, 41, 47, 43, 37,
     42, 39, 46, 38, 44, 40, 37, 45, 41, 43, 36, 44, 39, 46, 40, 42, 38, 45, 37, 41],
]
alpha_cyan_trace = [
    [20, 25, 16, 22, 27, 18, 24, 14, 21, 26, 17, 23, 19, 28, 15, 22, 25, 18, 21, 24,
     17, 23, 27, 19, 15, 24, 21, 26, 18, 6, 29, 16, 20, 25, 13, 23, 19, 27, 21, 17,
     24, 18, 21, 26, 16, 28, 20, 15, 23, 19, 25, 17, 22, 27, 14, 21, 24, 18, 26, 20,
     19, 26, 9, 23, 21, 17, 27, 22, 18, 25, 20, 15, 24, 28, 19, 23, 16, 21, 25, 18,
     22, 16, 25, 20, 28, 19, 13, 24, 21, 17, 26, 22, 18, 25, 20, 27, 15, 23, 19, 24,
     26, 21, 17, 24, 19, 23, 28, 16, 22, 20, 14, 25, 21, 18, 27, 22, 17, 24, 20, 15,
     18, 24, 22, 15, 26, 20, 17, 25, 19, 28, 21, 16, 23, 20, 25, 18, 22, 10, 27, 21,
     23, 17, 28, 21, 18, 25, 22, 13, 26, 19, 24, 20, 16, 27, 22, 18, 25, 21, 17, 23,
     21, 27, 19, 16, 24, 22, 26, 18, 20, 15, 23, 28, 19, 24, 17, 21, 26, 20, 23, 16,
     16, 22, 7, 27, 20, 14, 21, 25, 17, 23, 19, 26, 22, 15, 28, 20, 18, 24, 21, 25],
    [24, 18, 21, 26, 16, 28, 20, 15, 23, 19, 25, 17, 22, 27, 14, 21, 24, 18, 26, 20,
     19, 26, 14, 23, 21, 17, 27, 22, 18, 25, 20, 15, 24, 28, 19, 23, 16, 21, 25, 18,
     22, 16, 25, 20, 28, 19, 9, 24, 21, 17, 26, 22, 18, 25, 20, 27, 15, 23, 19, 24,
     26, 21, 17, 24, 19, 23, 28, 16, 22, 20, 14, 25, 21, 18, 27, 22, 17, 24, 20, 15,
     18, 24, 22, 15, 26, 20, 17, 25, 19, 30, 21, 16, 23, 20, 25, 18, 22, 14, 27, 21,
     23, 17, 28, 21, 18, 25, 22, 13, 26, 19, 24, 20, 16, 27, 22, 18, 25, 21, 17, 23,
     21, 27, 19, 16, 24, 22, 26, 18, 20, 15, 23, 28, 19, 24, 17, 21, 26, 20, 23, 16,
     16, 22, 24, 27, 20, 10, 21, 25, 17, 23, 19, 26, 22, 15, 28, 20, 18, 24, 21, 25,
     20, 25, 16, 22, 27, 18, 24, 14, 21, 26, 17, 23, 19, 28, 15, 22, 25, 18, 21, 24,
     17, 23, 27, 19, 15, 24, 21, 26, 18, 22, 29, 16, 20, 25, 8, 23, 19, 27, 21, 17],
    [22, 16, 25, 20, 28, 19, 13, 24, 21, 17, 26, 22, 18, 25, 20, 27, 15, 23, 19, 24,
     26, 21, 17, 24, 19, 23, 28, 16, 22, 20, 14, 25, 21, 18, 27, 22, 17, 24, 20, 15,
     18, 24, 22, 15, 26, 20, 17, 25, 19, 28, 21, 16, 23, 20, 25, 18, 22, 14, 27, 21,
     23, 17, 31, 21, 18, 25, 22, 13, 26, 19, 24, 20, 16, 27, 22, 18, 25, 21, 17, 23,
     21, 27, 19, 16, 24, 22, 26, 18, 20, 9, 23, 28, 19, 24, 17, 21, 26, 20, 23, 16,
     16, 6, 24, 27, 20, 14, 21, 25, 17, 23, 19, 26, 22, 15, 28, 20, 18, 24, 21, 25,
     20, 25, 16, 22, 27, 18, 24, 14, 21, 26, 17, 23, 19, 28, 15, 22, 25, 18, 21, 24,
     17, 23, 27, 19, 15, 24, 21, 26, 18, 22, 29, 16, 20, 25, 13, 23, 19, 27, 21, 7,
     24, 18, 21, 26, 16, 28, 20, 15, 23, 19, 25, 17, 22, 27, 14, 21, 24, 18, 26, 20,
     19, 26, 14, 23, 21, 17, 27, 22, 18, 25, 20, 15, 24, 28, 19, 23, 16, 21, 25, 18],
    [18, 24, 22, 15, 26, 20, 17, 25, 19, 28, 21, 16, 23, 20, 25, 18, 22, 14, 27, 21,
     23, 17, 28, 21, 18, 25, 22, 13, 26, 19, 24, 20, 16, 27, 22, 18, 25, 21, 17, 23,
     21, 27, 19, 16, 24, 22, 26, 18, 20, 10, 23, 28, 19, 24, 17, 21, 26, 20, 23, 16,
     16, 22, 24, 27, 20, 14, 21, 25, 17, 23, 19, 26, 22, 15, 28, 20, 18, 24, 21, 25,
     20, 25, 16, 22, 27, 18, 24, 14, 21, 26, 17, 23, 19, 28, 15, 22, 28, 35, 21, 24,
     17, 23, 27, 19, 15, 24, 21, 26, 18, 22, 29, 16, 20, 25, 13, 23, 19, 27, 21, 17,
     24, 18, 21, 26, 16, 28, 20, 15, 23, 19, 25, 17, 22, 27, 8, 21, 24, 18, 26, 20,
     19, 26, 14, 23, 21, 17, 27, 22, 18, 25, 20, 15, 24, 30, 19, 23, 16, 21, 25, 18,
     22, 16, 25, 20, 28, 19, 13, 24, 21, 17, 26, 22, 18, 25, 20, 27, 15, 23, 19, 24,
     26, 21, 17, 24, 19, 23, 28, 16, 22, 20, 14, 25, 21, 18, 27, 22, 17, 24, 20, 9],
]

ink = "#262626"
plt.rcParams["font.family"] = "DejaVu Sans"

fig = plt.figure(figsize=(2423 / 200, 1606 / 200), dpi=200)

panels = [
    (var_names[0], beta_colors, [(beta_blue_kde_x, beta_blue_kde_y), (beta_orange_kde_x, beta_orange_kde_y)],
     [beta_blue_trace, beta_orange_trace], 100.0, beta_xticks, beta_yticks),
    (var_names[1], lam_colors, [(lam_green_kde_x, lam_green_kde_y), (lam_magenta_kde_x, lam_magenta_kde_y)],
     [lam_green_trace, lam_magenta_trace], 10.0, lam_xticks, lam_yticks),
    (var_names[2], alpha_colors, [(alpha_brown_kde_x, alpha_brown_kde_y), (alpha_cyan_kde_x, alpha_cyan_kde_y)],
     [alpha_brown_trace, alpha_cyan_trace], 100.0, alpha_xticks, alpha_yticks),
]
rows = [(0.7067, 0.2291), (0.391, 0.228), (0.084, 0.2273)]

for (name, cols, kdes, traces, scale, xt, yt), (y0, h) in zip(panels, rows):
    ax_k = fig.add_axes([0.0083, y0, 0.456, h])
    ax_t = fig.add_axes([0.5365, y0, 0.4614, h])
    for ax in (ax_k, ax_t):
        ax.set_facecolor("#eeeeee")
        for sp in ax.spines.values():
            sp.set_visible(False)
        ax.grid(True, color="white", lw=0.8)
        ax.set_axisbelow(True)

    for ch in range(2):
        kx, ky = kdes[ch]
        for c in range(4):
            ax_k.plot(kx[c], ky[c], color=cols[ch], ls=chain_styles[c], lw=1.6)
            vals = np.array(traces[ch][c]) / scale
            ax_t.plot(np.linspace(0, 999, len(vals)), vals, color=cols[ch], ls=chain_styles[c], lw=2.0)

    ax_k.set_yticks([])
    ax_k.set_xticks(xt)
    ax_k.tick_params(axis="x", length=3, width=0.8, color=ink, labelsize=13.5, labelcolor=ink)
    ax_k.set_xlabel(name, fontsize=15, color=ink)

    ax_t.set_xticks(draw_ticks)
    ax_t.set_yticks(yt)
    ax_t.tick_params(length=0, pad=5, labelsize=13.5, labelcolor=ink)
    ax_t.set_xlabel("Draw", fontsize=15, color=ink)
    ax_t.set_ylabel(name, fontsize=15, color=ink)

fig.text(0.5, 0.9639, "Trace Plot — Additive", ha="center", va="baseline",
         fontsize=18, fontweight="bold", color=ink)

fig.savefig("out.png", dpi=200)
